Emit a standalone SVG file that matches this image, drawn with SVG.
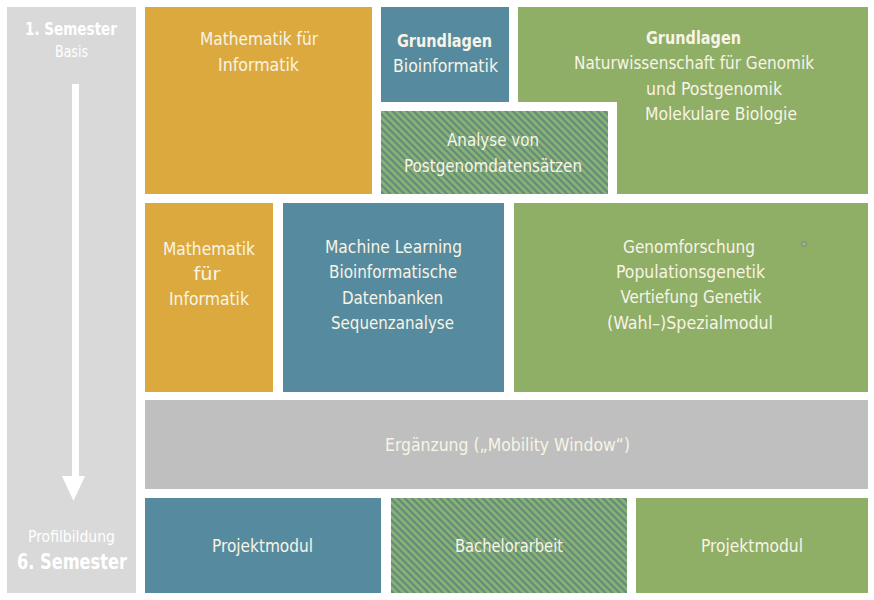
<svg xmlns="http://www.w3.org/2000/svg" width="874" height="600" viewBox="0 0 874 600">
<defs>
<pattern id="hatch" patternUnits="userSpaceOnUse" width="5" height="5" patternTransform="rotate(45)">
<rect width="5" height="5" fill="#8db173"/>
<rect width="5" height="2.2" fill="#5e8c7e"/>
</pattern>
<style>
text{font-family:"DejaVu Sans Condensed","DejaVu Sans",sans-serif;font-size:18px;fill:#f8f4e6;text-anchor:middle}
.b{font-weight:bold}
.side{fill:#ffffff}
.or{fill:#dca93f}
.bl{fill:#568b9f}
.gr{fill:#8fae66}
.ha{fill:url(#hatch)}
</style>
</defs>
<rect width="874" height="600" fill="#ffffff"/>
<g id="timeline">
<rect x="7" y="7" width="129" height="586" fill="#d9d9d9"/>
<rect x="72" y="84" width="7" height="393" fill="#ffffff"/>
<polygon points="62,476 85,476 73.5,501" fill="#ffffff"/>
<text class="side b" x="71" y="35" font-size="17" textLength="92" lengthAdjust="spacingAndGlyphs">1. Semester</text>
<text class="side" x="71.5" y="57" style="font-size:15px" textLength="33" lengthAdjust="spacingAndGlyphs">Basis</text>
<text class="side" x="71.5" y="542" style="font-size:15px" textLength="87" lengthAdjust="spacingAndGlyphs">Profilbildung</text>
<text class="side b" x="72" y="569" style="font-size:22px" textLength="110" lengthAdjust="spacingAndGlyphs">6. Semester</text>
</g>
<g id="mathe1">
<rect class="or" x="145" y="7" width="227" height="187"/>
<text x="259" y="45" textLength="118" lengthAdjust="spacingAndGlyphs">Mathematik für</text>
<text x="258.5" y="71" textLength="81" lengthAdjust="spacingAndGlyphs">Informatik</text>
</g>
<g id="grundlagen-bioinf">
<rect class="bl" x="381" y="7" width="128" height="95"/>
<text class="b" x="444.5" y="47" textLength="95" lengthAdjust="spacingAndGlyphs">Grundlagen</text>
<text x="445.5" y="72" textLength="105" lengthAdjust="spacingAndGlyphs">Bioinformatik</text>
</g>
<g id="grundlagen-natur">
<path class="gr" d="M518,7 H868 V194 H617 V102 H518 Z"/>
<text class="b" x="693.5" y="44" textLength="95" lengthAdjust="spacingAndGlyphs">Grundlagen</text>
<text x="694" y="69" textLength="240" lengthAdjust="spacingAndGlyphs">Naturwissenschaft für Genomik</text>
<text x="714" y="95" textLength="136" lengthAdjust="spacingAndGlyphs">und Postgenomik</text>
<text x="721" y="120" textLength="152" lengthAdjust="spacingAndGlyphs">Molekulare Biologie</text>
</g>
<g id="analyse">
<rect class="ha" x="381" y="111" width="227" height="83"/>
<text x="493" y="146" textLength="92" lengthAdjust="spacingAndGlyphs">Analyse von</text>
<text x="493" y="172" textLength="178" lengthAdjust="spacingAndGlyphs">Postgenomdatensätzen</text>
</g>
<g id="mathe2">
<rect class="or" x="145" y="203" width="128" height="189"/>
<text x="209" y="255" textLength="92" lengthAdjust="spacingAndGlyphs">Mathematik</text>
<text x="207" y="280" textLength="27" lengthAdjust="spacingAndGlyphs">für</text>
<text x="209" y="305" textLength="80" lengthAdjust="spacingAndGlyphs">Informatik</text>
</g>
<g id="bioinf2">
<rect class="bl" x="283" y="203" width="221" height="189"/>
<text x="393.5" y="253" textLength="137" lengthAdjust="spacingAndGlyphs">Machine Learning</text>
<text x="393" y="278" textLength="128" lengthAdjust="spacingAndGlyphs">Bioinformatische</text>
<text x="392.5" y="304" textLength="101" lengthAdjust="spacingAndGlyphs">Datenbanken</text>
<text x="392.5" y="329" textLength="123" lengthAdjust="spacingAndGlyphs">Sequenzanalyse</text>
</g>
<g id="genetik">
<rect class="gr" x="514" y="203" width="354" height="189"/>
<text x="689" y="253" textLength="132" lengthAdjust="spacingAndGlyphs">Genomforschung</text>
<text x="690.5" y="278" textLength="149" lengthAdjust="spacingAndGlyphs">Populationsgenetik</text>
<text x="691" y="303" textLength="141" lengthAdjust="spacingAndGlyphs">Vertiefung Genetik</text>
<text x="690" y="329" textLength="166" lengthAdjust="spacingAndGlyphs">(Wahl–)Spezialmodul</text>
<circle cx="804" cy="244" r="2.5" fill="#a3ad95" stroke="#7d8a72" stroke-width="1"/>
</g>
<g id="ergaenzung">
<rect x="145" y="400" width="723" height="89" fill="#bfbfbf"/>
<text x="507.5" y="451" textLength="245" lengthAdjust="spacingAndGlyphs">Ergänzung („Mobility Window“)</text>
</g>
<g id="projekt1">
<rect class="bl" x="145" y="498" width="236" height="95"/>
<text x="262.5" y="552" textLength="101" lengthAdjust="spacingAndGlyphs">Projektmodul</text>
</g>
<g id="bachelor">
<rect class="ha" x="391" y="498" width="236" height="95"/>
<text x="509" y="552" textLength="108" lengthAdjust="spacingAndGlyphs">Bachelorarbeit</text>
</g>
<g id="projekt2">
<rect class="gr" x="636" y="498" width="232" height="95"/>
<text x="752" y="552" textLength="102" lengthAdjust="spacingAndGlyphs">Projektmodul</text>
</g>
<g id="connectors"></g>
</svg>
